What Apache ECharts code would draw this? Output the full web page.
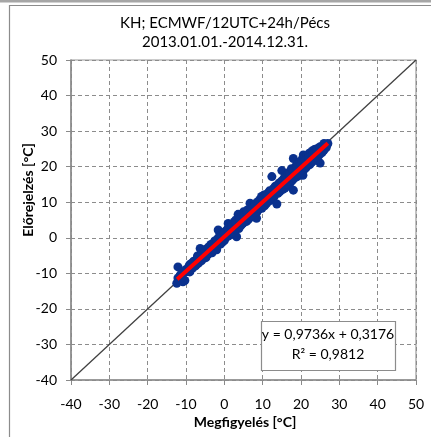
<!DOCTYPE html>
<html><head><meta charset="utf-8">
<script src="https://cdn.jsdelivr.net/npm/echarts@6/dist/echarts.min.js"></script>
<style>html,body{margin:0;padding:0;background:#fff}#c{width:431px;height:437px}</style>
</head><body><div id="c"></div>
<script>
const titleLines = ["KH; ECMWF/12UTC+24h/Pécs", "2013.01.01.-2014.12.31."];
const xName = "Megfigyelés [°C]";
const yName = "Előrejelzés [°C]";
const axisMin = -40, axisMax = 50, axisStep = 10;
const eqLines = ["y = 0,9736x + 0,3176", "R² = 0,9812"];
const slope = 0.9736, intercept = 0.3176;
const trendX = [-12.3, 27.0];
const obs = [-12.4,-12.1,-12.1,-11.5,-10.8,-10.3,-10.5,-10.0,-9.6,-9.2,-9.0,-8.6,-8.3,-8.0,-7.7,-7.5,-7.2,-7.0,-6.8,-6.5,-6.3,-6.0,-5.8,-5.5,-5.3,-5.0,-4.8,-4.5,-4.2,-4.0,-3.7,-3.5,-3.2,-3.0,-2.8,-2.5,-2.2,-2.0,-1.8,-1.6,-1.5,-1.2,-1.0,-0.8,-0.5,-0.3,0.0,0.2,0.5,0.8,1.0,1.2,1.5,1.8,2.0,2.3,2.6,2.8,3.0,3.2,3.4,3.6,3.8,4.0,4.3,4.5,4.8,5.0,5.2,5.5,5.8,6.0,6.3,6.7,6.8,7.0,7.3,7.5,7.8,8.0,8.4,8.5,8.8,9.0,9.3,9.7,9.8,10.0,10.3,10.5,10.8,11.0,11.3,11.5,11.8,12.0,12.4,12.5,12.8,13.0,13.3,13.7,14.0,14.3,14.5,15.0,15.0,15.3,15.6,15.8,16.0,16.3,16.6,16.8,17.0,17.3,17.5,17.8,18.0,18.0,18.3,18.5,18.8,19.0,19.3,19.5,19.8,20.0,20.3,20.5,20.6,20.8,21.0,21.3,21.5,21.8,22.0,22.3,22.5,22.8,23.0,23.3,23.5,23.8,24.0,24.3,24.5,24.8,25.0,25.2,25.5,25.8,26.0,26.3,26.6,27.0,26.8,
-11,-11,-9,-9,-8,-8,-7,-7,-6,-6,-5,-5,-4,-4,-3,-3,-2,-2,-1,-1,0,0,1,1,2,2,3,3,4,4,5,5,6,6,7,7,8,8,9,9,10,10,11,11,12,12,13,13,14,14,15,15,16,16,17,17,18,18,19,19,20,20,21,21,22,22,23,23,24,24,25,25,26,26];
const fc = [-12.8,-11.3,-8.2,-10.5,-12.4,-12.0,-9.8,-8.9,-9.5,-7.9,-9.6,-7.2,-8.5,-6.6,-7.7,-7.9,-6.0,-5.1,-7.2,-5.4,-3.0,-6.5,-4.6,-5.8,-3.9,-4.2,-5.6,-3.0,-4.6,-2.5,-3.9,-1.9,-4.2,-2.0,-3.3,-0.9,-2.6,-3.4,-0.3,2.2,-1.8,0.6,-1.8,0.1,-1.2,1.3,-0.8,1.8,0.2,2.4,4.0,0.6,3.3,1.0,3.8,1.5,4.5,2.3,5.0,0.3,3.2,6.6,2.6,5.5,3.4,6.0,4.0,7.3,4.4,6.2,4.6,7.8,5.2,9.7,6.4,8.6,5.9,8.5,7.0,9.6,5.5,7.2,10.2,8.0,10.8,11.6,8.3,10.0,12.0,9.0,11.6,9.6,12.5,10.4,13.2,10.5,17.2,11.0,13.8,11.6,14.5,9.5,12.5,15.4,13.0,18.9,16.0,13.6,16.8,14.0,17.3,14.5,17.8,15.0,18.5,15.6,19.4,16.2,22.3,13.4,19.6,16.9,20.4,17.2,21.0,17.6,21.4,18.4,22.0,17.6,23.3,19.2,22.5,19.7,23.0,20.3,23.6,20.6,24.0,21.2,24.5,21.7,24.8,22.3,25.0,22.6,25.2,23.3,21.0,25.5,24.0,25.8,24.8,26.0,25.4,26.5,26.2,
-9.6,-11.1,-7.6,-9.2,-6.8,-8.2,-5.7,-7.2,-4.7,-6.3,-3.7,-5.4,-2.8,-4.4,-1.7,-3.4,-0.8,-2.4,0.2,-1.5,1.2,-0.5,2.2,0.5,3.2,1.4,4.1,2.4,5.1,3.3,6.1,4.3,7.1,5.3,8.0,6.2,9.0,7.2,10.0,8.2,11.0,9.2,12.0,10.1,12.9,11.1,13.9,12.1,14.9,13.1,15.9,14.0,16.8,15.0,17.8,16.0,18.8,16.9,19.7,17.9,20.7,18.9,21.7,19.9,22.6,20.8,23.6,21.8,24.6,22.8,25.6,23.8,26.5,24.7];

const pts = obs.map((x, i) => [x, fc[i]]);
const trend = trendX.map(x => [x, slope * x + intercept]);
const diag = [[axisMin, axisMin], [axisMax, axisMax]];

const FONT = 'Lato, "Open Sans", sans-serif';
const chart = echarts.init(document.getElementById('c'), null, {renderer: 'canvas'});
const axisCommon = {
  type: 'value', min: axisMin, max: axisMax, interval: axisStep,
  axisLine: {show: true, onZero: false, lineStyle: {color: '#8a8a8a', width: 1.5}},
  axisTick: {show: true, inside: false, length: 5, lineStyle: {color: '#8a8a8a', width: 1}},
  axisLabel: {color: '#000', fontFamily: FONT, fontSize: 14, margin: 14},
  splitLine: {show: true, lineStyle: {color: '#8c8c8c', type: [4, 3], width: 1}}
};
chart.setOption({
  animation: false,
  backgroundColor: '#fff',
  grid: {left: 71, right: 15, top: 60, bottom: 57, show: true, borderColor: '#9a9a9a', borderWidth: 1.2, backgroundColor: 'transparent'},
  xAxis: Object.assign({}, axisCommon, {axisLabel: Object.assign({}, axisCommon.axisLabel, {margin: 17})}),
  yAxis: Object.assign({}, axisCommon, {axisLabel: Object.assign({}, axisCommon.axisLabel, {margin: 14})}),
  series: [
    {type: 'line', data: diag, symbol: 'none', lineStyle: {color: '#404040', width: 1.3}, z: 1},
    {type: 'scatter', data: pts, symbol: 'circle', symbolSize: 9, itemStyle: {color: '#0a318e', opacity: 1}, z: 2},
    {type: 'line', data: trend, symbol: 'none', lineStyle: {color: '#ff0000', width: 4}, z: 3}
  ],
  graphic: [
    {type: 'rect', shape: {x: 0, y: 0, width: 431, height: 2.5}, style: {fill: '#a6a6a6'}, silent: true},
    {type: 'line', shape: {x1: 9, y1: 5.5, x2: 431, y2: 5.5}, style: {stroke: '#8c8c8c', lineWidth: 1.2}},
    {type: 'line', shape: {x1: 9.5, y1: 5, x2: 9.5, y2: 437}, style: {stroke: '#8c8c8c', lineWidth: 1.2}},
    {type: 'text', x: 225, y: 23, style: {text: titleLines[0], font: '15px ' + FONT, fill: '#000', textAlign: 'center', textVerticalAlign: 'middle'}},
    {type: 'text', x: 225, y: 42, style: {text: titleLines[1], font: '15px ' + FONT, fill: '#000', textAlign: 'center', textVerticalAlign: 'middle'}},
    {type: 'text', x: 245, y: 422, style: {text: xName, font: 'bold 14px ' + FONT, fill: '#000', textAlign: 'center', textVerticalAlign: 'middle'}},
    {type: 'text', x: 28, y: 190, rotation: Math.PI / 2, style: {text: yName, font: 'bold 14px ' + FONT, fill: '#000', textAlign: 'center', textVerticalAlign: 'middle'}},
    {type: 'rect', z: 10, shape: {x: 261.5, y: 321.5, width: 134, height: 49}, style: {fill: '#fff', stroke: '#8c8c8c', lineWidth: 1.2}},
    {type: 'text', z: 11, x: 328, y: 334, style: {text: eqLines[0], font: '14px ' + FONT, fill: '#000', textAlign: 'center', textVerticalAlign: 'middle'}},
    {type: 'text', z: 11, x: 328, y: 354, style: {text: eqLines[1], font: '14px ' + FONT, fill: '#000', textAlign: 'center', textVerticalAlign: 'middle'}}
  ]
});
</script></body></html>
